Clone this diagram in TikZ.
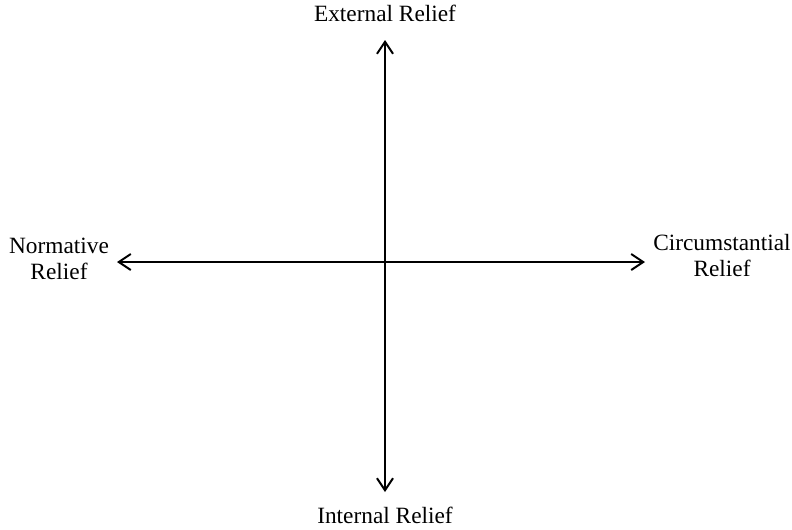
\documentclass[tikz,border=0pt]{standalone}
\usepackage{fontspec}
\setmainfont{Liberation Serif}
\usetikzlibrary{arrows.meta}
\begin{document}
\begin{tikzpicture}[x=0.75pt,y=-0.75pt,
  axis/.style={line width=1.5pt,{Straight Barb[length=9pt,width=12pt,line width=1.5pt]}-{Straight Barb[length=9pt,width=12pt,line width=1.5pt]}},
  lbl/.style={font=\fontsize{17.5pt}{19.5pt}\selectfont,align=center,inner sep=0pt}]
\useasboundingbox (0,0) rectangle (792,529);
\coordinate (top) at (385,40);
\coordinate (bot) at (385,492);
\coordinate (left) at (117,262);
\coordinate (right) at (645,262);
\draw[axis] (top) -- (bot);
\draw[axis] (left) -- (right);
\node[lbl,anchor=base] (ext) at (385,21) {External Relief};
\node[lbl,anchor=base] (int) at (385,523) {Internal Relief};
\node[lbl,anchor=base] (norm) at (59,279) {Normative\\Relief};
\node[lbl,anchor=base] (circ) at (722,276) {Circumstantial\\Relief};
\end{tikzpicture}
\end{document}
